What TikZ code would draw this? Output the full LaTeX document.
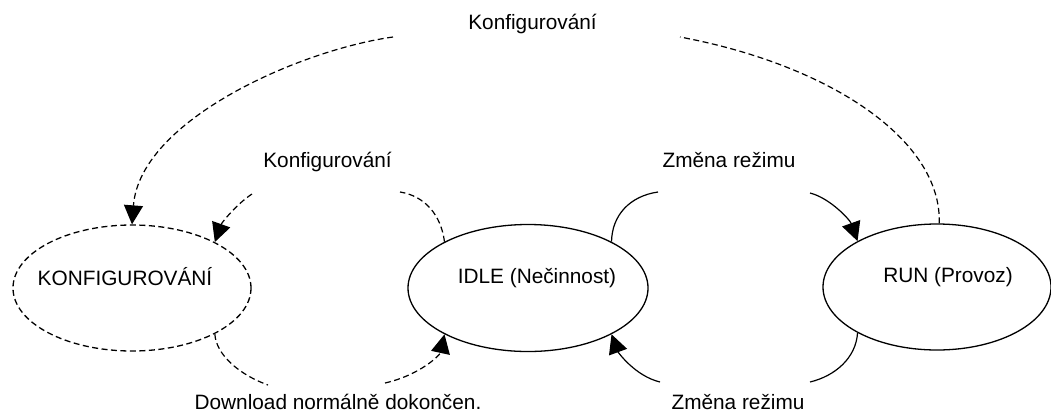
\documentclass[tikz,border=0pt]{standalone}
\usepackage{fontspec}
\setmainfont{Liberation Sans}
\usetikzlibrary{shapes.geometric,arrows.meta}
\begin{document}
\begin{tikzpicture}[x=1pt, y=-1pt, every node/.style={font=\fontsize{20.8}{25}\selectfont},
  state/.style={ellipse, draw, line width=1.3pt, inner sep=0pt},
  lbl/.style={anchor=base, inner sep=0pt},
  cfg/.style={line width=1.2pt, dash pattern=on 6pt off 3.5pt, -{Triangle[length=19pt,width=19pt]}},
  mode/.style={line width=1.2pt, -{Triangle[length=19pt,width=19pt]}}]
\useasboundingbox (0,0) rectangle (1051,413);
\node[state, dash pattern=on 6pt off 3.5pt, minimum width=238pt, minimum height=126pt,
  label={[xshift=-7pt, yshift=11pt]center:KONFIGUROVÁNÍ}] (konfig) at (132,288) {};
\node[state, minimum width=240pt, minimum height=127pt,
  label={[xshift=9pt, yshift=10pt]center:IDLE (Nečinnost)}] (idle) at (528,288) {};
\node[state, minimum width=228pt, minimum height=126pt,
  label={[xshift=11pt, yshift=10pt]center:RUN (Provoz)}] (run) at (937,287) {};
\node[lbl] (lcfgtop) at (532.5,29) {Konfigurování};
\node[lbl] (lcfg) at (327.5,167) {Konfigurování};
\node[lbl] (lmodetop) at (729,167) {Změna režimu};
\node[lbl] (ldownload) at (338,409) {Download normálně dokončen.};
\node[lbl] (lmodebot) at (738,409) {Změna režimu};
\draw[cfg] (run.88) .. controls (942,140) and (830,65) .. (680,37)
  (393,37) .. controls (300,50) and (140,120) .. (konfig.north);
\draw[cfg] (idle.151) .. controls (441,215) and (425,196) .. (400,192)
  (252,194) .. controls (238,203) and (222,222) .. (konfig.29);
\draw[cfg] (konfig.-29) .. controls (216,355) and (240,375) .. (268,385)
  (385,383) .. controls (420,375) and (440,355) .. (idle.-151);
\draw[mode] (idle.29) .. controls (612,215) and (630,196) .. (658,192)
  (810,193) .. controls (830,198) and (850,220) .. (run.150);
\draw[mode] (run.-150) .. controls (856,358) and (835,376) .. (810,382)
  (660,382) .. controls (635,376) and (618,352) .. (idle.-29);
\end{tikzpicture}
\end{document}
